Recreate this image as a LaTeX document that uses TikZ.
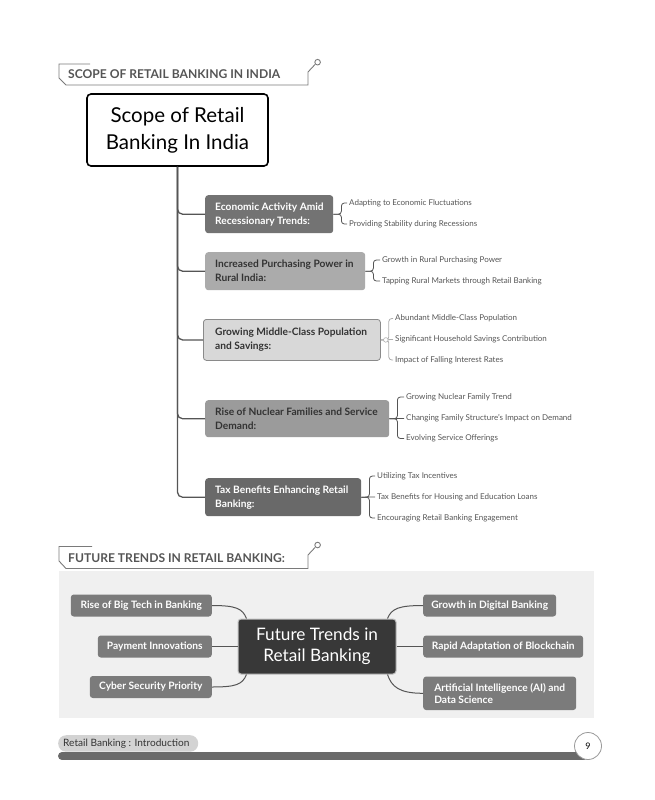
\documentclass[tikz,border=0pt]{standalone}
\usepackage{fontspec}
\setmainfont{Lato}
\definecolor{hdr}{HTML}{555555}
\definecolor{hline}{HTML}{7A7A7A}
\definecolor{trunkc}{HTML}{555555}
\definecolor{ecoc}{HTML}{737373}
\definecolor{purc}{HTML}{ABABAB}
\definecolor{midc}{HTML}{D8D8D8}
\definecolor{midb}{HTML}{8A8A8A}
\definecolor{nucc}{HTML}{9B9B9B}
\definecolor{taxc}{HTML}{696969}
\definecolor{leafc}{HTML}{555555}
\definecolor{panel}{HTML}{F0F0F0}
\definecolor{fnode}{HTML}{7B7B7B}
\definecolor{fcent}{HTML}{383838}
\definecolor{pillc}{HTML}{D3D3D3}
\definecolor{barc}{HTML}{6A6A6A}
\begin{document}
\begin{tikzpicture}[x=1pt,y=-1pt,
  hdrtext/.style={anchor=west, inner sep=0pt, text=hdr, font=\bfseries\fontsize{12.1}{14}\selectfont},
  hdrline/.style={draw=hline, line width=0.9pt},
  mainbox/.style={draw=black, line width=1.6pt, rounded corners=4pt, fill=white, minimum width=181pt, minimum height=72pt, align=center, font=\fontsize{20.5}{27}\selectfont},
  catbox/.style={rounded corners=3pt, minimum height=38pt, inner sep=0pt},
  cattext/.style={anchor=west, inner sep=0pt, align=left, font=\bfseries\fontsize{10.2}{14}\selectfont},
  trunk/.style={draw=trunkc, line width=1.3pt, rounded corners=5pt},
  brc/.style={draw=trunkc, line width=0.8pt, rounded corners=3pt},
  brclight/.style={draw=midb!70, line width=0.8pt, rounded corners=3pt},
  leaf/.style={anchor=west, inner xsep=2pt, inner ysep=1pt, text=leafc, font=\fontsize{8}{9.5}\selectfont},
  fbox/.style={fill=fnode, rounded corners=3pt, minimum height=22pt, inner sep=0pt, text=white, align=center, font=\bfseries\fontsize{10.2}{12.5}\selectfont},
  fconn/.style={draw=trunkc, line width=1pt}
]
\useasboundingbox (0,0) rectangle (654,800);

% ---------- Header 1 ----------
\draw[hdrline] (90,64) -- (59,64) -- (59,78) -- (66,85) -- (308,85) -- (308,72) -- (315,64.5);
\draw[hdrline, fill=white] (317.6,62.2) circle (2.8pt);
\node[hdrtext] (h1) at (68,74.5) {SCOPE OF RETAIL BANKING IN INDIA};

% ---------- Main box ----------
\node[mainbox] (main) at (177.5,130) {Scope of Retail\\Banking In India};

% ---------- Category boxes ----------
\node[catbox, fill=ecoc, minimum width=128pt, anchor=north west] (eco) at (205,195) {};
\node[cattext, text=white] (ecot) at ([xshift=10pt]eco.west) {Economic Activity Amid\\Recessionary Trends:};

\node[catbox, fill=purc, minimum width=160pt, anchor=north west] (pur) at (205,252) {};
\node[cattext, text=black!80] (purt) at ([xshift=10pt]pur.west) {Increased Purchasing Power in\\Rural India:};

\node[catbox, fill=midc, draw=midb, line width=0.8pt, minimum width=177pt, minimum height=41pt, anchor=north west] (mid) at (203,319) {};
\node[cattext, text=black!80] (midt) at ([xshift=12pt]mid.west) {Growing Middle-Class Population\\and Savings:};

\node[catbox, fill=nucc, minimum width=184pt, minimum height=37pt, anchor=north west] (nuc) at (205,400) {};
\node[cattext, text=black!80] (nuct) at ([xshift=10pt]nuc.west) {Rise of Nuclear Families and Service\\Demand:};

\node[catbox, fill=taxc, minimum width=156pt, anchor=north west] (tax) at (205,478) {};
\node[cattext, text=white] (taxt) at ([xshift=10pt]tax.west) {Tax Benefits Enhancing Retail\\Banking:};

% ---------- Trunk ----------
\draw[trunk] (main.south) |- (eco.west);
\draw[trunk] (main.south) |- (pur.west);
\draw[trunk] (main.south) |- (mid.west);
\draw[trunk] (main.south) |- (nuc.west);
\draw[trunk] (main.south) |- (tax.west);

% ---------- Leaves ----------
\node[leaf] (eco1) at (347,203) {Adapting to Economic Fluctuations};
\node[leaf] (eco2) at (347,224) {Providing Stability during Recessions};
\draw[brc] (eco.east) -- ++(8,0) |- (eco1.west);
\draw[brc] (eco.east) -- ++(8,0) |- (eco2.west);

\node[leaf] (pur1) at (380,260) {Growth in Rural Purchasing Power};
\node[leaf] (pur2) at (380,281) {Tapping Rural Markets through Retail Banking};
\draw[brc] (pur.east) -- ++(8,0) |- (pur1.west);
\draw[brc] (pur.east) -- ++(8,0) |- (pur2.west);

\node[leaf] (mid1) at (393,318.5) {Abundant Middle-Class Population};
\node[leaf] (mid2) at (393,339.5) {Significant Household Savings Contribution};
\node[leaf] (mid3) at (393,360) {Impact of Falling Interest Rates};
\draw[brclight] (mid.east) -- ++(8,0) |- (mid1.west);
\draw[brclight] (mid.east) -- (mid2.west);
\draw[brclight] (mid.east) -- ++(8,0) |- (mid3.west);
\draw[draw=midb!70, fill=white, line width=0.6pt] ([xshift=5pt]mid.east) circle (2.3pt);

\node[leaf] (nuc1) at (404,397) {Growing Nuclear Family Trend};
\node[leaf] (nuc2) at (404,418.5) {Changing Family Structure's Impact on Demand};
\node[leaf] (nuc3) at (404,438.5) {Evolving Service Offerings};
\draw[brc] (nuc.east) -- ++(8,0) |- (nuc1.west);
\draw[brc] (nuc.east) -- (nuc2.west);
\draw[brc] (nuc.east) -- ++(8,0) |- (nuc3.west);

\node[leaf] (tax1) at (375,476) {Utilizing Tax Incentives};
\node[leaf] (tax2) at (375,497) {Tax Benefits for Housing and Education Loans};
\node[leaf] (tax3) at (375,518) {Encouraging Retail Banking Engagement};
\draw[brc] (tax.east) -- ++(8,0) |- (tax1.west);
\draw[brc] (tax.east) -- (tax2.west);
\draw[brc] (tax.east) -- ++(8,0) |- (tax3.west);

% ---------- Header 2 ----------
\draw[hdrline] (92,546.5) -- (59,546.5) -- (59,561) -- (66,568.5) -- (308,568.5) -- (308,555) -- (315,547.5);
\draw[hdrline, fill=white] (317.6,545) circle (2.8pt);
\node[hdrtext] (h2) at (68,558) {FUTURE TRENDS IN RETAIL BANKING:};

% ---------- Future panel ----------
\fill[panel] (59,571) rectangle (594,718);

\node[fill=fcent, draw=black!25, line width=1pt, rounded corners=3pt, minimum width=158pt, minimum height=55pt, text=white, align=center, font=\fontsize{17.2}{21}\selectfont] (ftc) at (317,646.5) {Future Trends in\\Retail Banking};

\node[fbox, minimum width=141pt, anchor=east] (rise) at (212,605.5) {Rise of Big Tech in Banking};
\node[fbox, minimum width=114pt, anchor=east] (pay) at (212,646.5) {Payment Innovations};
\node[fbox, minimum width=122pt, anchor=east] (cyb) at (212,687) {Cyber Security Priority};
\node[fbox, minimum width=133pt, anchor=west] (grow) at (423,605.5) {Growth in Digital Banking};
\node[fbox, minimum width=160pt, anchor=west] (rap) at (423,646.5) {Rapid Adaptation of Blockchain};
\node[fbox, minimum width=153pt, minimum height=33.5pt, anchor=west, align=left] (ai) at (423,693.3) {Artificial Intelligence (AI) and\\Data Science};

\draw[fconn] (rise.east) .. controls +(24,0) and +(-4,-10) .. ([xshift=9pt]ftc.north west);
\draw[fconn] (pay.east) -- (ftc.west);
\draw[fconn] (cyb.east) .. controls +(24,0) and +(-4,10) .. ([xshift=9pt]ftc.south west);
\draw[fconn] ([xshift=-9pt]ftc.north east) .. controls +(4,-10) and +(-24,0) .. (grow.west);
\draw[fconn] (ftc.east) -- (rap.west);
\draw[fconn] ([xshift=-9pt]ftc.south east) .. controls +(4,12) and +(-24,0) .. (ai.west);

% ---------- Footer ----------
\draw[barc, line width=8pt, line cap=round] (62,756) -- (584,756);
\node[fill=pillc, rounded corners=8pt, minimum width=140pt, minimum height=16.5pt, inner sep=0pt, anchor=north west] (pill) at (58,735) {};
\node[anchor=west, inner sep=0pt, text=black!80, font=\fontsize{10.1}{12}\selectfont] (pillt) at ([xshift=5pt]pill.west) {Retail Banking : Introduction};
\node[circle, draw=black!40, fill=white, line width=0.8pt, minimum size=27pt, inner sep=0pt, font=\fontsize{9}{11}\selectfont] (pg) at (588,746) {9};
\end{tikzpicture}
\end{document}
